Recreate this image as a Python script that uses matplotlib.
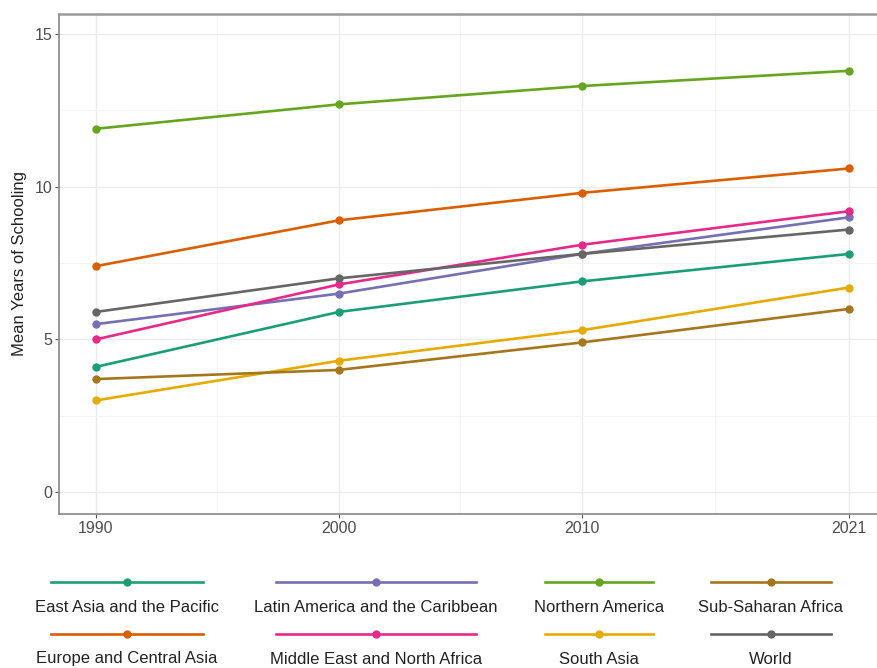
import matplotlib

matplotlib.use("Agg")
import matplotlib.pyplot as plt
from matplotlib.lines import Line2D

plt.rcParams["font.family"] = ["Liberation Sans", "DejaVu Sans"]

years = [1990, 2000, 2010, 2021]

regions = [
    "East Asia and the Pacific",
    "Europe and Central Asia",
    "Latin America and the Caribbean",
    "Middle East and North Africa",
    "Northern America",
    "South Asia",
    "Sub-Saharan Africa",
    "World",
]

east_asia = [4.1, 5.9, 6.9, 7.8]
europe_central_asia = [7.4, 8.9, 9.8, 10.6]
latin_america = [5.5, 6.5, 7.8, 9.0]
middle_east = [5.0, 6.8, 8.1, 9.2]
northern_america = [11.9, 12.7, 13.3, 13.8]
south_asia = [3.0, 4.3, 5.3, 6.7]
sub_saharan = [3.7, 4.0, 4.9, 6.0]
world = [5.9, 7.0, 7.8, 8.6]

series = [east_asia, europe_central_asia, latin_america, middle_east,
          northern_america, south_asia, sub_saharan, world]

colors = ["#1B9E77", "#D95F02", "#7570B3", "#E7298A",
          "#66A61E", "#E6AB02", "#A6761D", "#666666"]

W, H = 878, 668
fig = plt.figure(figsize=(W / 100, H / 100), dpi=100)
ax = fig.add_axes([59 / W, 1 - 514 / H, 1 - 59 / W, 500 / H])

for vals, col in zip(series, colors):
    ax.plot(years, vals, color=col, lw=1.9, marker="o", ms=5, zorder=3)

ax.set_xlim(1988.48, 2022.19)
ax.set_ylim(-0.72, 15.66)
ax.set_xticks(years)
ax.set_yticks([0, 5, 10, 15])
ax.set_xticks([1995, 2005, 2015.5], minor=True)
ax.set_yticks([2.5, 7.5, 12.5], minor=True)
ax.grid(which="major", color="#EBEBEB", lw=1.0)
ax.grid(which="minor", color="#F4F4F4", lw=0.6)
ax.set_axisbelow(True)
ax.tick_params(which="minor", length=0)
ax.tick_params(which="major", length=3, color="#555555", labelsize=11.5,
               labelcolor="#4D4D4D", pad=2)
ax.set_ylabel("Mean Years of Schooling", fontsize=12, color="#222222", labelpad=5)

ax.spines["right"].set_visible(False)
for side in ("left", "bottom"):
    ax.spines[side].set_color("#888888")
    ax.spines[side].set_linewidth(1.2)
ax.spines["top"].set_color("#999999")
ax.spines["top"].set_linewidth(1.8)

# legend: 2 rows x 4 columns, key line above each label
col_centers = [127, 376, 599, 771]
key_widths = [152, 200, 108, 120]
key_rows = [582, 634]
text_rows = [608, 659]
for i, (name, col) in enumerate(zip(regions, colors)):
    c, r = divmod(i, 2)
    cx = col_centers[c] / W
    half = key_widths[c] / 2 / W
    ky = 1 - key_rows[r] / H
    fig.add_artist(Line2D([cx - half, cx + half], [ky, ky], color=col, lw=1.9,
                          transform=fig.transFigure))
    fig.add_artist(Line2D([cx], [ky], color=col, marker="o", ms=5,
                          transform=fig.transFigure))
    fig.text(cx, 1 - text_rows[r] / H, name, ha="center", va="center",
             fontsize=12, color="#222222")

fig.savefig("out.png", dpi=100)
